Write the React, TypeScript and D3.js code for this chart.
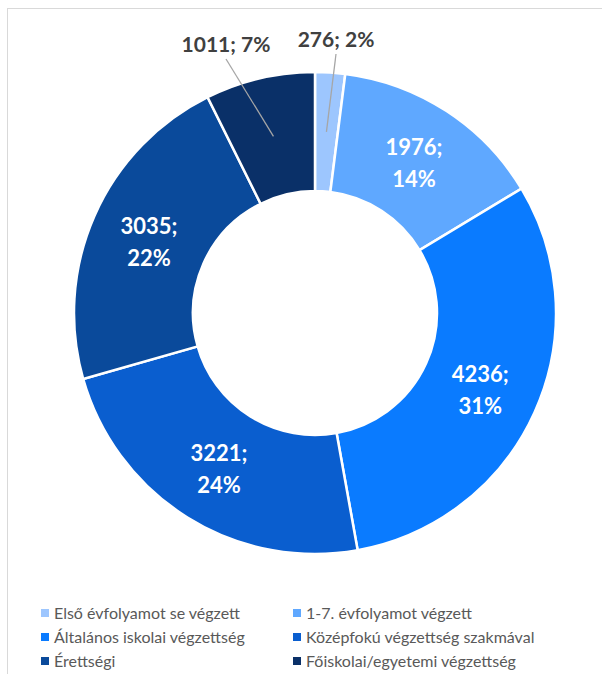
import { useEffect, useRef } from 'react';
import * as d3 from 'd3';

const categories = [
  'Első évfolyamot se végzett',
  '1-7. évfolyamot végzett',
  'Általános iskolai végzettség',
  'Középfokú végzettség szakmával',
  'Érettségi',
  'Főiskolai/egyetemi végzettség',
];
const values = [276, 1976, 4236, 3221, 3035, 1011];
const percents = ['2%', '14%', '31%', '24%', '22%', '7%'];
const colors = ['#9dc6fe', '#5fa8ff', '#0a7bff', '#0a5ecf', '#0a4a9b', '#0a3068'];
// small slices get their label outside, with a leader line
const outsideLabels = [true, false, false, false, false, true];

const width = 602;
const height = 674;
const font = 'Lato, "Open Sans", sans-serif';

export default function App() {
  const svgRef = useRef<SVGSVGElement>(null);

  useEffect(() => {
    if (!svgRef.current) return;
    const svg = d3.select(svgRef.current);
    svg.selectAll('*').remove();

    // chart frame
    svg.append('rect')
      .attr('x', 7.5).attr('y', 8.5)
      .attr('width', 700).attr('height', 700)
      .attr('fill', 'white')
      .attr('stroke', '#d9d9d9')
      .attr('stroke-width', 1);

    const cx = 315, cy = 313;
    const outerR = 241, innerR = 122;

    const data = values.map((v, i) => ({ label: categories[i], value: v, pct: percents[i], i }));
    const pie = d3.pie<any>().value(d => d.value).sort(null);
    const arcs = pie(data);
    const arc = d3.arc<any>().innerRadius(innerR).outerRadius(outerR);

    const g = svg.append('g').attr('transform', `translate(${cx},${cy})`);

    g.selectAll('path.slice')
      .data(arcs)
      .enter()
      .append('path')
      .attr('class', 'slice')
      .attr('d', arc)
      .attr('fill', d => colors[d.data.i])
      .attr('stroke', 'white')
      .attr('stroke-width', 2.5);

    // inside labels
    const inside = arcs.filter(d => !outsideLabels[d.data.i]);
    const inText = g.selectAll('text.in')
      .data(inside)
      .enter()
      .append('text')
      .attr('class', 'in')
      .attr('text-anchor', 'middle')
      .attr('font-family', font)
      .attr('font-weight', 700)
      .attr('font-size', 22)
      .attr('fill', 'white');
    inText.append('tspan')
      .attr('x', d => arc.centroid(d)[0])
      .attr('y', d => arc.centroid(d)[1] - 6)
      .text(d => `${d.data.value};`);
    inText.append('tspan')
      .attr('x', d => arc.centroid(d)[0])
      .attr('y', d => arc.centroid(d)[1] + 26)
      .text(d => d.data.pct);

    // outside labels with leader lines
    const labelPos: Record<number, [number, number]> = {
      0: [336 - cx, 47 - cy],
      5: [226 - cx, 52 - cy],
    };
    const outside = arcs.filter(d => outsideLabels[d.data.i]);
    g.selectAll('line.lead')
      .data(outside)
      .enter()
      .append('line')
      .attr('class', 'lead')
      .attr('x1', d => arc.centroid(d)[0])
      .attr('y1', d => arc.centroid(d)[1])
      .attr('x2', d => labelPos[d.data.i][0])
      .attr('y2', d => labelPos[d.data.i][1] + 7)
      .attr('stroke', '#a6a6a6')
      .attr('stroke-width', 1.3);
    g.selectAll('text.out')
      .data(outside)
      .enter()
      .append('text')
      .attr('class', 'out')
      .attr('x', d => labelPos[d.data.i][0])
      .attr('y', d => labelPos[d.data.i][1])
      .attr('text-anchor', 'middle')
      .attr('font-family', font)
      .attr('font-weight', 700)
      .attr('font-size', 21)
      .attr('fill', '#404040')
      .text(d => `${d.data.value}; ${d.data.pct}`);

    // legend, two columns
    const legend = svg.append('g');
    const colX = [41, 293];
    const rowY = [619, 643, 667];
    data.forEach((d, i) => {
      const x = colX[i % 2];
      const y = rowY[Math.floor(i / 2)];
      legend.append('rect')
        .attr('x', x).attr('y', y - 10)
        .attr('width', 8).attr('height', 8)
        .attr('fill', colors[i]);
      legend.append('text')
        .attr('x', x + 13).attr('y', y)
        .attr('font-family', font)
        .attr('font-size', 16)
        .attr('fill', '#595959')
        .text(d.label);
    });
  }, []);

  return (
    <svg
      ref={svgRef}
      width={width}
      height={height}
      viewBox={`0 0 ${width} ${height}`}
      style={{ position: 'absolute', left: 0, top: 0, background: 'white' }}
    />
  );
}
